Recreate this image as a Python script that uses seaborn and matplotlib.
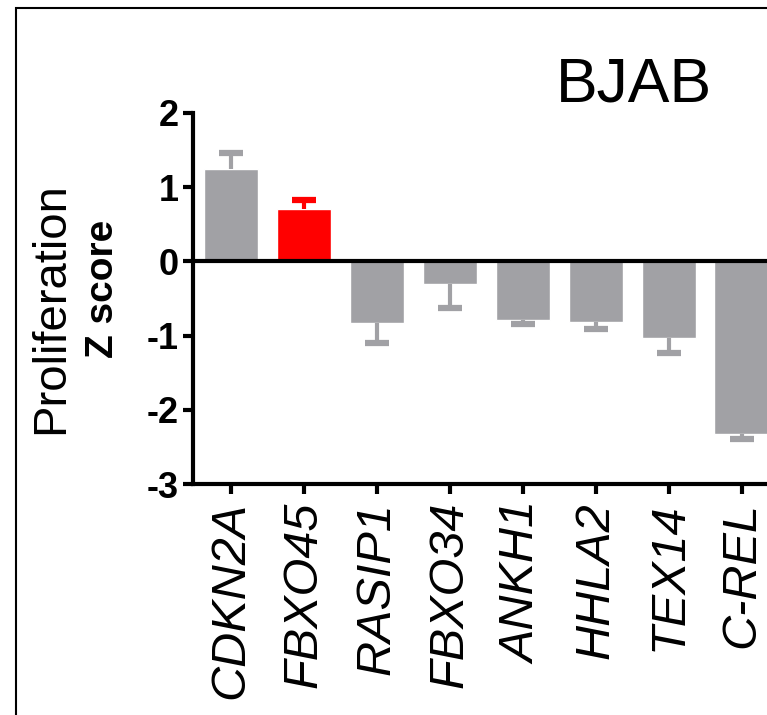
import matplotlib
matplotlib.use("Agg")
import matplotlib.pyplot as plt
from matplotlib.patches import Rectangle
import pandas as pd
import seaborn as sns

# values
genes = ["CDKN2A", "FBXO45", "RASIP1", "FBXO34", "ANKH1", "HHLA2", "TEX14", "C-REL"]
zscore = [1.25, 0.71, -0.83, -0.31, -0.79, -0.81, -1.03, -2.33]
sem = [0.21, 0.12, 0.27, 0.32, 0.06, 0.10, 0.20, 0.06]
bar_colors = ["#a1a1a5", "#ff0000", "#a1a1a5", "#a1a1a5", "#a1a1a5", "#a1a1a5", "#a1a1a5", "#a1a1a5"]

df = pd.DataFrame({"gene": genes, "z": zscore, "sem": sem})

sns.set_style("ticks")
plt.rcParams["font.family"] = ["Liberation Sans", "DejaVu Sans"]
plt.rcParams["text.color"] = "black"
plt.rcParams["xtick.color"] = "black"
plt.rcParams["ytick.color"] = "black"
plt.rcParams["axes.labelcolor"] = "black"

fig = plt.figure(figsize=(7.67, 7.15), dpi=100)
ax = fig.add_axes([193 / 767, 231 / 715, 589 / 767, 371 / 715])

sns.barplot(data=df, x="gene", y="z", hue="gene", palette=bar_colors,
            legend=False, width=0.75, errorbar=None, saturation=1, ax=ax)

# one-sided error bars pointing away from zero
for i, row in df.iterrows():
    sign = 1 if row["z"] >= 0 else -1
    tip = row["z"] + sign * row["sem"]
    ax.plot([i, i], [row["z"], tip], color=bar_colors[i], lw=3, zorder=1,
            solid_capstyle="butt")
    ax.plot([i], [tip], marker="_", markersize=17, markeredgewidth=4.5,
            color=bar_colors[i], zorder=1)

ax.axhline(0, color="black", lw=3, zorder=3)

ax.set_ylim(-3, 2)
ax.set_xlim(-0.52, 7.55)
ax.set_yticks([2, 1, 0, -1, -2, -3])
ax.set_yticklabels(["2", "1", "0", "-1", "-2", "-3"], fontsize=26,
                   fontweight="bold", color="black")
ax.set_xticks(range(len(genes)))
ax.set_xticklabels(genes, rotation=90, fontsize=35, fontstyle="italic",
                   color="black")
ax.tick_params(axis="both", length=7, width=3, color="black", pad=3)
ax.tick_params(axis="x", pad=6)
ax.set_xlabel("")
ax.set_ylabel("")
for side in ["top", "right"]:
    ax.spines[side].set_visible(False)
for side in ["left", "bottom"]:
    ax.spines[side].set_linewidth(3)
    ax.spines[side].set_color("black")

fig.text(634 / 767, 1 - 85 / 715, "BJAB", ha="center", va="center",
         fontsize=45, color="black")
fig.text(51 / 767, 1 - 308 / 715, "Proliferation", rotation=90,
         ha="center", va="center", fontsize=34, color="black")
fig.text(103 / 767, 1 - 289 / 715, "Z score", rotation=90,
         ha="center", va="center", fontsize=28, fontweight="bold", color="black")

fig.patches.append(Rectangle((16 / 767, -0.1), 1.2, (715 - 8) / 715 + 0.1,
                             transform=fig.transFigure, fill=False,
                             lw=1.5, ec="black"))

fig.savefig("out.png", dpi=100)
